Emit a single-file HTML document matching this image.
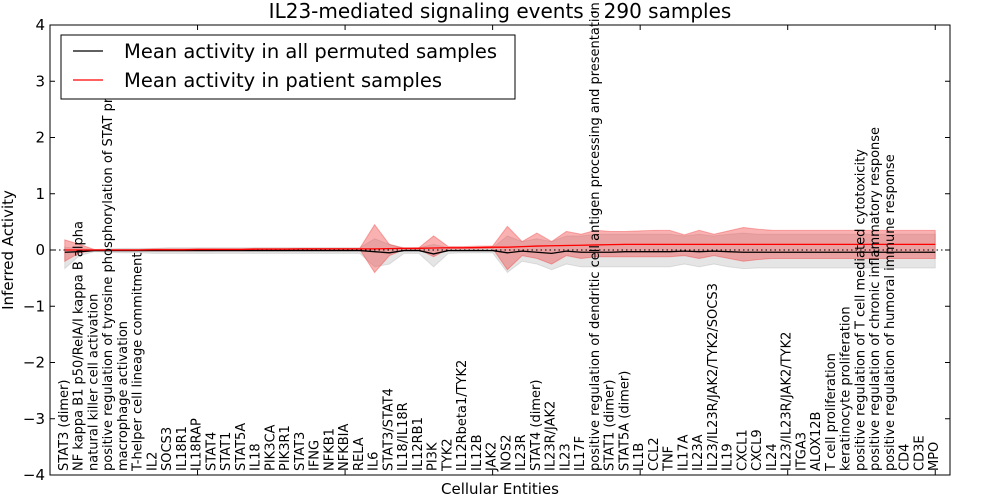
<!DOCTYPE html>
<html><head><meta charset="utf-8"><style>
html,body{margin:0;padding:0;background:#fff;}
svg{display:block;font-family:"DejaVu Sans","Liberation Sans",sans-serif;}
</style></head><body>
<svg id="chart" width="1000" height="500"></svg>
<script>
const categories=["STAT3 (dimer)","NF kappa B1 p50/RelA/I kappa B alpha","natural killer cell activation","positive regulation of tyrosine phosphorylation of STAT protein","macrophage activation","T-helper cell lineage commitment","IL2","SOCS3","IL18R1","IL18RAP","STAT4","STAT1","STAT5A","IL18","PIK3CA","PIK3R1","STAT3","IFNG","NFKB1","NFKBIA","RELA","IL6","STAT3/STAT4","IL18/IL18R","IL12RB1","PI3K","TYK2","IL12Rbeta1/TYK2","IL12B","JAK2","NOS2","IL23R","STAT4 (dimer)","IL23R/JAK2","IL23","IL17F","positive regulation of dendritic cell antigen processing and presentation","STAT1 (dimer)","STAT5A (dimer)","IL1B","CCL2","TNF","IL17A","IL23A","IL23/IL23R/JAK2/TYK2/SOCS3","IL19","CXCL1","CXCL9","IL24","IL23/IL23R/JAK2/TYK2","ITGA3","ALOX12B","T cell proliferation","keratinocyte proliferation","positive regulation of T cell mediated cytotoxicity","positive regulation of chronic inflammatory response","positive regulation of humoral immune response","CD4","CD3E","MPO"];
const patientMean=[0,0,0,0,0,0,0.005,0.005,0.005,0.01,0.01,0.01,0.01,0.015,0.015,0.015,0.02,0.02,0.02,0.02,0.02,0.02,0.025,0.03,0.03,0.035,0.04,0.04,0.045,0.05,0.05,0.06,0.07,0.075,0.08,0.085,0.09,0.095,0.1,0.1,0.1,0.1,0.1,0.1,0.1,0.1,0.1,0.1,0.1,0.1,0.1,0.1,0.1,0.1,0.1,0.1,0.1,0.1,0.1,0.1];
const patientUpper=[0.18,0.1,0.01,0.01,0.01,0.01,0.02,0.02,0.02,0.02,0.02,0.02,0.02,0.03,0.03,0.03,0.03,0.03,0.03,0.03,0.03,0.45,0.1,0.03,0.04,0.25,0.06,0.06,0.07,0.07,0.42,0.15,0.3,0.15,0.33,0.28,0.35,0.33,0.33,0.34,0.35,0.35,0.27,0.35,0.28,0.34,0.4,0.37,0.35,0.35,0.35,0.35,0.35,0.35,0.35,0.35,0.35,0.35,0.35,0.35];
const patientLower=[-0.2,-0.05,-0.01,-0.01,-0.01,-0.01,-0.01,-0.01,-0.01,-0.01,-0.01,0,0,0,0,0,0,0,0.01,0.01,0.01,-0.4,-0.1,0.01,0.01,-0.12,0.02,0.02,0.02,0.03,-0.35,-0.1,-0.15,-0.25,-0.1,-0.15,-0.12,-0.12,-0.12,-0.12,-0.12,-0.12,-0.1,-0.15,-0.1,-0.15,-0.2,-0.17,-0.15,-0.15,-0.15,-0.15,-0.15,-0.15,-0.15,-0.15,-0.15,-0.15,-0.15,-0.15];
const permMean=[-0.04,-0.03,-0.01,-0.01,-0.01,-0.01,-0.01,-0.01,-0.01,-0.01,-0.01,-0.01,-0.01,-0.01,-0.01,-0.01,-0.01,-0.01,-0.01,-0.01,-0.01,-0.03,-0.05,-0.01,-0.01,-0.07,-0.01,-0.01,-0.01,-0.01,-0.05,-0.02,-0.04,-0.06,-0.02,-0.04,-0.04,-0.04,-0.03,-0.03,-0.03,-0.03,-0.02,-0.03,-0.02,-0.03,-0.04,-0.04,-0.04,-0.04,-0.04,-0.04,-0.04,-0.04,-0.04,-0.04,-0.04,-0.04,-0.04,-0.04];
const permUpper=[0.05,0.03,0.01,0.02,0.03,0.03,0.03,0.04,0.04,0.04,0.04,0.04,0.04,0.04,0.04,0.04,0.04,0.04,0.04,0.04,0.04,0.2,0.1,0.04,0.04,0.1,0.04,0.04,0.04,0.04,0.25,0.15,0.2,0.15,0.25,0.25,0.28,0.28,0.28,0.28,0.28,0.28,0.25,0.28,0.25,0.28,0.3,0.28,0.28,0.28,0.28,0.28,0.28,0.28,0.28,0.28,0.28,0.28,0.28,0.28];
const permLower=[-0.33,-0.1,-0.03,-0.04,-0.05,-0.05,-0.06,-0.06,-0.06,-0.06,-0.06,-0.06,-0.06,-0.06,-0.06,-0.06,-0.06,-0.06,-0.06,-0.06,-0.06,-0.3,-0.25,-0.06,-0.06,-0.3,-0.06,-0.05,-0.05,-0.05,-0.4,-0.2,-0.25,-0.35,-0.25,-0.3,-0.3,-0.3,-0.3,-0.3,-0.3,-0.3,-0.25,-0.3,-0.25,-0.3,-0.33,-0.32,-0.32,-0.32,-0.32,-0.32,-0.32,-0.32,-0.32,-0.32,-0.32,-0.32,-0.32,-0.32];
const yTicks=[-4,-3,-2,-1,0,1,2,3,4];

const NS="http://www.w3.org/2000/svg";
const svg=document.getElementById('chart');
const L=50,R=950,T=25,B=475;
const X=i=>L+(i+1)/61*(R-L);
const Y=v=>T+(4-v)/8*(B-T);
function mk(tag,attrs,parent){const e=document.createElementNS(NS,tag);for(const k in attrs)e.setAttribute(k,attrs[k]);(parent||svg).appendChild(e);return e;}

function band(up,lo,fill,name){
  let d='M'+up.map((v,i)=>X(i)+','+Y(v)).join('L');
  for(let i=lo.length-1;i>=0;i--)d+='L'+X(i)+','+Y(lo[i]);
  const p=mk('path',{d:d+'Z',fill:fill,stroke:fill});
  
  
}
function line(vals,color,name){
  const p=mk('polyline',{points:vals.map((v,i)=>X(i)+','+Y(v)).join(' '),fill:'none',stroke:color,'stroke-width':1.3});
  
  
}
band(permUpper,permLower,'rgba(150,150,150,0.25)','permuted-band');
band(patientUpper,patientLower,'rgba(240,60,60,0.4)','patient-band');
const z=mk('line',{x1:L,x2:R,y1:Y(0),y2:Y(0),stroke:'#000','stroke-dasharray':'1.5,3','stroke-width':1});


line(permMean,'#000','permuted-mean-line');
line(patientMean,'#f00','patient-mean-line');

const frame=mk('rect',{x:L,y:T,width:R-L,height:B-T,fill:'none',stroke:'#000','stroke-width':1});



yTicks.forEach(v=>{
  mk('line',{x1:L,x2:L+5,y1:Y(v),y2:Y(v),stroke:'#000'});
  mk('line',{x1:R,x2:R-5,y1:Y(v),y2:Y(v),stroke:'#000'});
  const t=mk('text',{x:L-5,y:Y(v)+5,'text-anchor':'end','font-size':15});
  t.textContent=(v<0?'\u2212':'')+Math.abs(v);
  
  
});
categories.forEach((c,i)=>{
  if(i%10===9){
    mk('line',{x1:X(i),x2:X(i),y1:B,y2:B-5,stroke:'#000'});
    mk('line',{x1:X(i),x2:X(i),y1:T,y2:T+5,stroke:'#000'});
  }
  const t=mk('text',{x:0,y:0,'font-size':13,transform:`translate(${X(i)+3},471) rotate(-90)`});
  t.textContent=c;
  
  
});
</script>
<svg width="1000" height="500" style="position:absolute;left:0;top:0;font-family:'DejaVu Sans','Liberation Sans',sans-serif;">
  <text x="500" y="18" text-anchor="middle" font-size="20">IL23-mediated signaling events - 290 samples</text>
  <text x="500" y="494" text-anchor="middle" font-size="15">Cellular Entities</text>
  <text transform="translate(13,250) rotate(-90)" text-anchor="middle" font-size="15">Inferred Activity</text>
  <g>
    <rect x="61" y="35" width="454" height="64" fill="#fff" stroke="#000"/>
    <line x1="73" x2="103" y1="51" y2="51" stroke="#000" stroke-width="1.3"/>
    <text x="124" y="58" font-size="19.5">Mean activity in all permuted samples</text>
    <line x1="73" x2="103" y1="80" y2="80" stroke="#f00" stroke-width="1.3"/>
    <text x="124" y="87" font-size="19.5">Mean activity in patient samples</text>
  </g>
</svg>
</body></html>
